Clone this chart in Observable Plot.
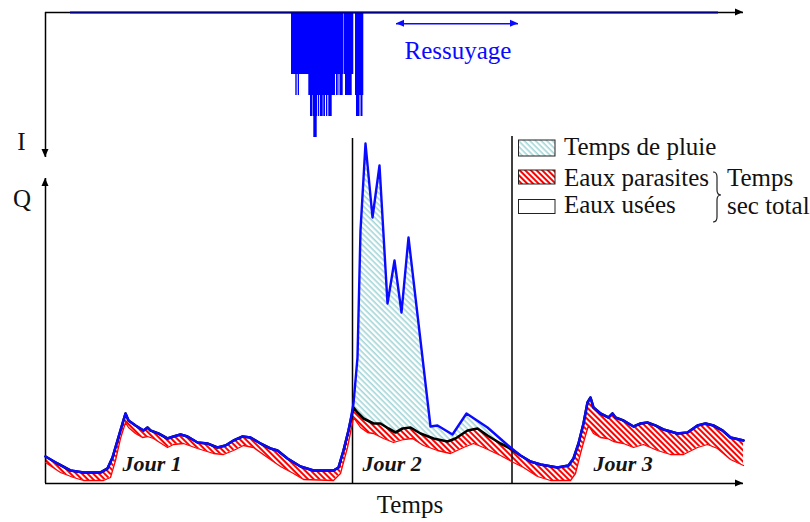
<!DOCTYPE html>
<html><head><meta charset="utf-8">
<script src="https://cdn.jsdelivr.net/npm/d3@7"></script>
<script src="https://cdn.jsdelivr.net/npm/@observablehq/plot@0.6"></script>
<style>
html,body{margin:0;padding:0;background:#fff;}
#wrap{position:relative;width:810px;height:522px;overflow:hidden;}
</style></head><body><div id="wrap"></div>
<script>
// time t (arbitrary units), flow Q (arbitrary units), rain intensity I
const dryTotal = [[0,27],[12,20],[25,13],[38,11],[55,11],[62,15],[67,26],[72,43],[77,60],[80,70],[83,63],[90,58],[98,53],[102,56],[105,53],[113,50],[122,45],[128,47],[135,49],[142,47],[152,41],[162,40],[172,36],[180,38],[188,43],[197,47],[205,46],[215,40],[225,35],[232,33],[242,25],[255,17],[268,13],[288,13],[293,16],[298,33],[303,53],[308,76],[312,71],[318,65],[328,60],[335,60],[343,55],[350,51],[357,55],[365,56],[375,50],[388,45],[402,42],[410,45],[422,53],[432,55],[442,48],[455,40],[465,35],[475,28],[485,22],[495,19],[512,16],[523,18],[528,25],[533,40],[538,60],[542,81],[545,86],[548,76],[555,70],[563,66],[567,70],[570,66],[578,63],[588,57],[595,60],[602,61],[610,58],[618,54],[632,50],[642,51],[652,58],[660,60],[668,58],[677,53],[685,46],[698,43]];
const wetTotal = [[305,63],[308,80],[312,126],[315,253],[320,340],[327,266],[334,318],[342,180],[349,223],[356,171],[363,246],[385,57],[392,58],[407,49],[421,70],[442,56],[465,36]];
const eauxUsees = [[0,21],[15,11],[28,6],[38,3],[58,3],[65,6],[70,23],[75,45],[80,61],[83,56],[90,50],[97,46],[102,47],[108,45],[122,36],[128,39],[138,40],[152,35],[168,30],[178,29],[188,33],[198,38],[208,36],[222,26],[235,17],[248,10],[258,4],[288,3],[295,10],[302,36],[308,66],[315,56],[322,51],[328,50],[338,45],[348,41],[358,44],[367,45],[378,38],[392,33],[405,30],[418,36],[428,40],[438,36],[455,28],[468,21],[478,16],[492,7],[505,3],[525,3],[530,10],[535,30],[540,48],[543,58],[548,50],[555,46],[562,45],[568,42],[578,40],[588,36],[598,39],[612,33],[625,29],[638,29],[652,36],[662,39],[672,35],[685,24],[698,18]];
// hyetograph: [start, end, intensity]
const rain = [[246,298,62],[298.5,308.3,62],[310,318.3,83],
  [250.3,251.7,83],[252.7,254,83],[263.3,290,83],[291,292.7,83],[293.5,294.5,83],[295,297.7,83],[300,306.7,83],
  [265,267.5,104],[268,272,104],[272.8,274.2,104],[275,277.7,104],[278.3,280,104],[281,282.3,104],[283.3,286.7,104],
  [311,314.5,104],[315.5,317.5,104],[268.3,271.7,125]];
const rainPeriod = [25, 673];
const dayBounds = [307, 466.5];
const dayNames = ["Jour 1","Jour 2","Jour 3"];
const dayLabelT = [77, 317, 548];
const ressuyage = [351, 473];

const TOP = 471; // level of the rainfall time axis
const toObj = a => a.map(([t,q]) => ({t, q}));
const dry = toObj(dryTotal), wet = toObj(wetTotal), usees = toObj(eauxUsees);
const blue = [...dry.filter(d => d.t < 305), ...wet, ...dry.filter(d => d.t > 465)];
const wetArea = blue.filter(d => d.t >= 303 && d.t <= 475);
const rainData = rain.map(([a,b,i]) => ({a, b, i}));
const days = dayNames.map((n, k) => ({n, t: dayLabelT[k]}));
const bounds = dayBounds.map((t, k) => ({t, top: k === 0 ? 345 : 347}));

const BLUE = "#0a0aff";
const plot = Plot.plot({
  width: 810, height: 522,
  marginLeft: 45, marginRight: 65, marginTop: 12, marginBottom: 39,
  x: {domain: [0, 700], axis: null},
  y: {domain: [0, 471], axis: null},
  style: {background: "white"},
  marks: [
    Plot.areaY(wetArea, {x: "t", y: "q", fill: "url(#blueHatch)"}),
    Plot.areaY(dry, {x: "t", y: "q", fill: "url(#redHatch)"}),
    Plot.areaY(usees, {x: "t", y: "q", fill: "white"}),
    Plot.rect(rainData, {x1: "a", x2: "b", y1: TOP, y2: d => TOP - d.i, fill: "#0000ff"}),
    Plot.ruleY([TOP], {x1: 0, x2: 698, stroke: "black", strokeWidth: 1.5}),
    Plot.ruleY([TOP], {x1: rainPeriod[0], x2: rainPeriod[1], stroke: "#000080", strokeWidth: 2}),
    Plot.ruleY([0], {x1: 0, x2: 698, stroke: "black", strokeWidth: 1.5}),
    Plot.ruleX([0], {y1: 0, y2: 305, stroke: "black", strokeWidth: 1.5}),
    Plot.ruleX([0], {y1: TOP, y2: 326, stroke: "black", strokeWidth: 1.5}),
    Plot.ruleX(bounds, {x: "t", y1: 0, y2: "top", stroke: "black", strokeWidth: 1.5}),
    Plot.ruleY([459.7], {x1: ressuyage[0], x2: ressuyage[1], stroke: BLUE, strokeWidth: 1.5}),
    Plot.line(usees, {x: "t", y: "q", stroke: "#ff0000", strokeWidth: 1.3}),
    Plot.line(dry, {x: "t", y: "q", stroke: "black", strokeWidth: 2.6}),
    Plot.line(blue, {x: "t", y: "q", stroke: BLUE, strokeWidth: 2.4}),
    Plot.text(days, {x: "t", y: 19.7, text: "n", textAnchor: "start", fontFamily: "Liberation Serif", fontWeight: "bold", fontStyle: "italic", fontSize: 22, fill: "#151515"})
  ]
});
document.getElementById("wrap").appendChild(plot);

const svg = d3.select(plot);
const defs = svg.insert("defs", ":first-child");
const rp = defs.append("pattern").attr("id", "redHatch").attr("patternUnits", "userSpaceOnUse")
  .attr("width", 4).attr("height", 4).attr("patternTransform", "rotate(45)");
rp.append("rect").attr("width", 4).attr("height", 4).attr("fill", "white");
rp.append("rect").attr("width", 4).attr("height", 2).attr("fill", "#ff0000");
const bp = defs.append("pattern").attr("id", "blueHatch").attr("patternUnits", "userSpaceOnUse")
  .attr("width", 4).attr("height", 4).attr("patternTransform", "rotate(45)");
bp.append("rect").attr("width", 4).attr("height", 4).attr("fill", "white");
bp.append("rect").attr("width", 4).attr("height", 1.6).attr("fill", "#a3d6d8");

const X = plot.scale("x").apply, Y = plot.scale("y").apply;
const g = svg.append("g");
function head(t, q, dir, color) {
  const x = X(t), y = Y(q), L = 8, W = 3.5;
  const pts = {
    right: [[x,y],[x-L,y-W],[x-L,y+W]], left: [[x,y],[x+L,y-W],[x+L,y+W]],
    up: [[x,y],[x-W,y+L],[x+W,y+L]], down: [[x,y],[x-W,y-L],[x+W,y-L]]
  }[dir];
  g.append("polygon").attr("points", pts.map(p => p.join(",")).join(" ")).attr("fill", color);
}
head(698, 0, "right", "black");
head(698, TOP, "right", "black");
head(0, 305, "up", "black");
head(0, 326, "down", "black");
head(ressuyage[0], 459.7, "left", BLUE);
head(ressuyage[1], 459.7, "right", BLUE);

const serif = "Liberation Serif, Times New Roman, serif";
function txt(s, x, y, opts = {}) {
  g.append("text").attr("x", x).attr("y", y).text(s)
    .attr("font-family", serif).attr("font-size", opts.size || 25)
    .attr("text-anchor", opts.anchor || "start").attr("fill", opts.fill || "#111");
}
txt("I", 21.5, 150, {anchor: "middle"});
txt("Q", 13, 207);
txt("Temps", 410, 513, {anchor: "middle"});
txt("Ressuyage", 458, 59, {anchor: "middle", fill: BLUE});
// legend
const boxes = [["url(#blueHatch)", 140, 16, "Temps de pluie", 155],
               ["url(#redHatch)", 170, 14, "Eaux parasites", 186],
               ["white", 199.5, 14, "Eaux usées", 213]];
for (const [f, y, h, label, by] of boxes) {
  g.append("rect").attr("x", 518.5).attr("y", y).attr("width", 36.5).attr("height", h)
    .attr("fill", f).attr("stroke", "#222").attr("stroke-width", 1);
  txt(label, 564, by);
}
g.append("path").attr("d", "M713,172 Q717,172 717,177 L717,190 Q717,195 721,195 Q717,195 717,200 L717,217 Q717,222 713,222")
  .attr("fill", "none").attr("stroke", "#222").attr("stroke-width", 1.2);
txt("Temps", 727, 186);
txt("sec total", 727, 214);
</script>
</body></html>
